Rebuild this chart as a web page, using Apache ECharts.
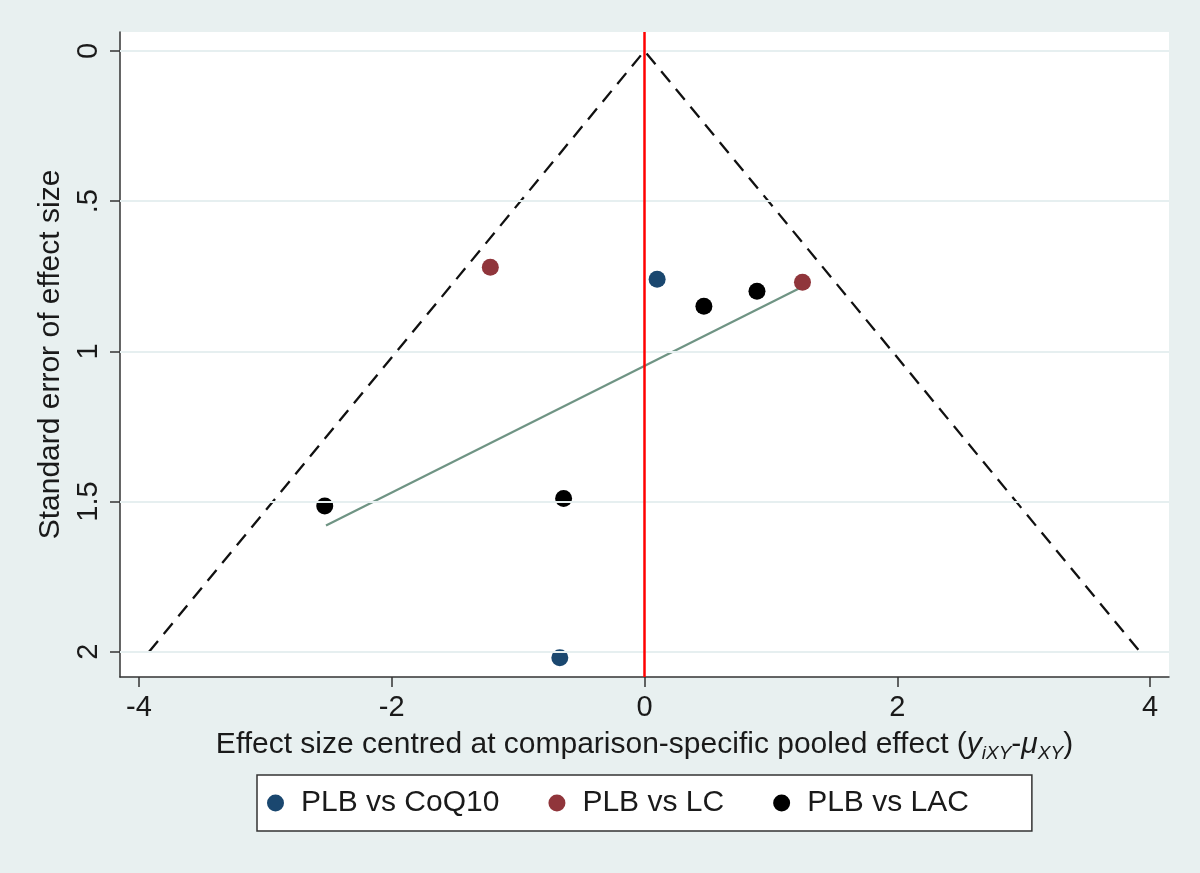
<!DOCTYPE html>
<html>
<head>
<meta charset="utf-8">
<title>Comparison-adjusted funnel plot</title>
<script src="https://cdn.jsdelivr.net/npm/echarts@6/dist/echarts.min.js"></script>
<style>
  html, body { margin: 0; padding: 0; background: #e8f0f0; }
  #chart { width: 1200px; height: 873px; }
</style>
</head>
<body>
<div id="chart"></div>
<script>
// data: [effect centred, standard error]
const coq10Points = [[0.10, 0.76], [-0.67, 2.02]];
const lcPoints = [[-1.22, 0.72], [1.25, 0.77]];
const lacPoints = [[0.47, 0.85], [0.89, 0.80], [-2.53, 1.515], [-0.64, 1.49]];
const fitLine = [[-2.52, 1.58], [1.25, 0.785]];
const funnelLine = [[-3.92, 2], [0, 0], [3.92, 2]];
const seriesNames = ['PLB vs CoQ10', 'PLB vs LC', 'PLB vs LAC'];
const xTicks = [-4, -2, 0, 2, 4];
const yTicks = [0, 0.5, 1, 1.5, 2];

const font = '"Liberation Sans", Arial, Helvetica, sans-serif';
const ink = '#1a1a1a';

const chart = echarts.init(document.getElementById('chart'));

const fmtY = v => (v === 0 ? '0' : String(v).replace(/^0\./, '.'));

chart.setOption({
  backgroundColor: '#e8f0f0',
  animation: false,
  textStyle: { fontFamily: font, color: ink },
  grid: {
    left: 120, top: 32, right: 31, bottom: 196,
    show: true, backgroundColor: '#fff', borderWidth: 0
  },
  xAxis: {
    type: 'value',
    min: -4.15, max: 4.15,
    axisLine: { onZero: false, lineStyle: { color: '#333', width: 1.5 } },
    axisTick: { customValues: xTicks, length: 10, lineStyle: { color: '#333', width: 1.5 } },
    axisLabel: { customValues: xTicks, fontSize: 29, color: ink, margin: 16, fontFamily: font },
    splitLine: { show: false },
    name: 'Effect size centred at comparison-specific pooled effect ({it|y}{sub|iXY}-{it|μ}{sub|XY})',
    nameLocation: 'middle',
    nameGap: 47,
    nameTextStyle: {
      fontSize: 30, color: ink, fontFamily: font, lineHeight: 36,
      rich: {
        it: { fontSize: 30, fontStyle: 'italic', color: ink, fontFamily: font, lineHeight: 36 },
        sub: { fontSize: 19, fontStyle: 'italic', color: ink, fontFamily: font, lineHeight: 19, verticalAlign: 'bottom' }
      }
    }
  },
  yAxis: {
    type: 'value',
    inverse: true,
    min: -0.063, max: 2.084,
    axisLine: { onZero: false, lineStyle: { color: '#333', width: 1.5 } },
    axisTick: { customValues: yTicks, length: 10, lineStyle: { color: '#333', width: 1.5 } },
    axisLabel: { customValues: yTicks, rotate: 90, fontSize: 29, color: ink, margin: 17, formatter: fmtY, fontFamily: font },
    splitLine: { show: false },
    name: 'Standard error of effect size',
    nameLocation: 'middle',
    nameGap: 50,
    nameTextStyle: { fontSize: 30, color: ink, fontFamily: font }
  },
  legend: {
    data: seriesNames,
    left: 257, top: 775,
    orient: 'horizontal',
    icon: 'circle',
    itemWidth: 17, itemHeight: 17,
    itemGap: 49,
    padding: [13, 63, 13, 10],
    backgroundColor: '#fff',
    borderColor: '#333',
    borderWidth: 1.5,
    borderRadius: 0,
    textStyle: { fontSize: 30, color: ink, fontFamily: font, padding: [0, 0, 0, 12] }
  },
  series: [
    {
      type: 'line',
      name: 'grid',
      data: [],
      silent: true,
      markLine: {
        silent: true,
        symbol: 'none',
        label: { show: false },
        lineStyle: { color: '#e6eff0', width: 2, type: 'solid' },
        data: yTicks.map(v => ({ yAxis: v }))
      },
      z: 1
    },
    {
      type: 'line',
      name: 'funnel',
      data: funnelLine,
      symbol: 'none',
      lineStyle: { color: '#111', width: 2.3, type: [14, 9] },
      silent: true,
      z: 2
    },
    {
      type: 'line',
      name: 'null',
      data: [],
      silent: true,
      markLine: {
        silent: true,
        symbol: 'none',
        label: { show: false },
        lineStyle: { color: '#ff0000', width: 2.5, type: 'solid' },
        data: [{ xAxis: 0 }]
      },
      z: 3
    },
    {
      type: 'line',
      name: 'fit',
      data: fitLine,
      symbol: 'none',
      lineStyle: { color: '#6f9484', width: 2.2 },
      silent: true,
      z: 3
    },
    {
      type: 'scatter', name: seriesNames[0], data: coq10Points,
      symbolSize: 17, itemStyle: { color: '#1a476f', opacity: 1 }, z: 4
    },
    {
      type: 'scatter', name: seriesNames[1], data: lcPoints,
      symbolSize: 17, itemStyle: { color: '#90353b', opacity: 1 }, z: 4
    },
    {
      type: 'scatter', name: seriesNames[2], data: lacPoints,
      symbolSize: 17, itemStyle: { color: '#000', opacity: 1 }, z: 4
    }
  ]
});
</script>
</body>
</html>
